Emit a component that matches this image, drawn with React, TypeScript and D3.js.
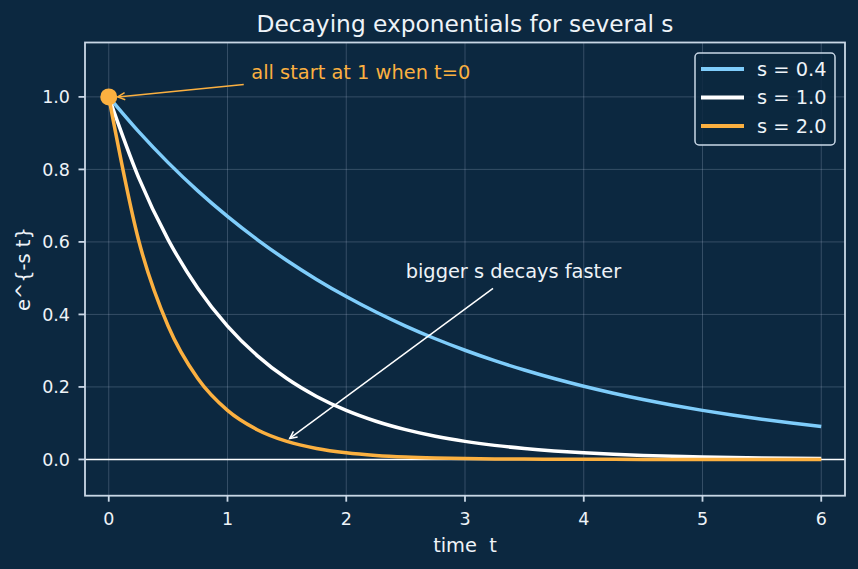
import React from "react";
import * as d3 from "d3";

// ---- data ----
const tValues = [0, 0.25, 0.5, 0.75, 1, 1.25, 1.5, 1.75, 2, 2.25, 2.5, 2.75, 3, 3.25, 3.5, 3.75, 4, 4.25, 4.5, 4.75, 5, 5.25, 5.5, 5.75, 6];
const decayS04 = [1, 0.9048, 0.8187, 0.7408, 0.6703, 0.6065, 0.5488, 0.4966, 0.4493, 0.4066, 0.3679, 0.3329, 0.3012, 0.2725, 0.2466, 0.2231, 0.2019, 0.1827, 0.1653, 0.1496, 0.1353, 0.1225, 0.1108, 0.1003, 0.0907];
const decayS10 = [1, 0.7788, 0.6065, 0.4724, 0.3679, 0.2865, 0.2231, 0.1738, 0.1353, 0.1054, 0.0821, 0.0639, 0.0498, 0.0388, 0.0302, 0.0235, 0.0183, 0.0143, 0.0111, 0.0087, 0.0067, 0.0052, 0.0041, 0.0032, 0.0025];
const decayS20 = [1, 0.6065, 0.3679, 0.2231, 0.1353, 0.0821, 0.0498, 0.0302, 0.0183, 0.0111, 0.0067, 0.0041, 0.0025, 0.0015, 0.0009, 0.0006, 0.0003, 0.0002, 0.0001, 0.0001, 0.0, 0.0, 0.0, 0.0, 0.0];
const seriesLabels = ["s = 0.4", "s = 1.0", "s = 2.0"];
const xTicks = [0, 1, 2, 3, 4, 5, 6];
const yTicks = [0, 0.2, 0.4, 0.6, 0.8, 1.0];
const titleText = "Decaying exponentials for several s";
const xLabelText = "time  t";
const yLabelText = "e^{-s t}";
const note1Text = "all start at 1 when t=0";
const note2Text = "bigger s decays faster";

// ---- styles ----
const BG = "#0c2840";
const FG = "#eef3f8";
const SPINE = "#c9d7e6";
const GRID = "rgba(200,215,235,0.22)";
const COLORS = ["#7fcdfb", "#ffffff", "#fbb040"];
const FONT = "'DejaVu Sans', Verdana, sans-serif";

const W = 858, H = 569;
const L = 85, R = 845, T = 42.5, B = 495.7;

function arrowHead(x1: number, y1: number, x2: number, y2: number, len = 8, half = 26) {
  const a = Math.atan2(y2 - y1, x2 - x1);
  const h = (half * Math.PI) / 180;
  const p1 = [x2 - len * Math.cos(a - h), y2 - len * Math.sin(a - h)];
  const p2 = [x2 - len * Math.cos(a + h), y2 - len * Math.sin(a + h)];
  return `M${p1[0]},${p1[1]}L${x2},${y2}L${p2[0]},${p2[1]}`;
}

export default function App() {
  const x = d3.scaleLinear().domain([-0.2, 6.2]).range([L, R]);
  const y = d3.scaleLinear().domain([-0.1, 1.15]).range([B, T]);
  const series = [decayS04, decayS10, decayS20];
  const line = d3
    .line<number>()
    .x((_, i) => x(tValues[i]))
    .y((d) => y(d))
    .curve(d3.curveMonotoneX);

  // annotation anchors in data units
  const a1Start = [x(1.137), y(1.034)];
  const a1End = [x(0.076), y(1.0)];
  const a2Start = [x(3.236), y(0.472)];
  const a2End = [x(1.524), y(0.058)];

  return (
    <svg width={W} height={H} style={{ position: "absolute", left: 0, top: 0, display: "block" }} fontFamily={FONT}>
      <rect x={0} y={0} width={W} height={H} fill={BG} />
      {/* grid */}
      {xTicks.map((t) => (
        <line key={"gx" + t} x1={x(t)} x2={x(t)} y1={T} y2={B} stroke={GRID} strokeWidth={1} />
      ))}
      {yTicks.map((v) => (
        <line key={"gy" + v} x1={L} x2={R} y1={y(v)} y2={y(v)} stroke={GRID} strokeWidth={1} />
      ))}
      {/* zero line */}
      <line x1={L} x2={R} y1={y(0)} y2={y(0)} stroke="#ffffff" strokeWidth={1.5} />
      {/* curves */}
      {series.map((s, i) => (
        <path key={"s" + i} d={line(s) || ""} fill="none" stroke={COLORS[i]} strokeWidth={3.5} />
      ))}
      {/* start marker */}
      <circle cx={x(0)} cy={y(1)} r={8.5} fill={COLORS[2]} />
      {/* spines */}
      <rect x={L} y={T} width={R - L} height={B - T} fill="none" stroke={SPINE} strokeWidth={1.8} />
      {/* ticks */}
      {xTicks.map((t) => (
        <g key={"xt" + t}>
          <line x1={x(t)} x2={x(t)} y1={B} y2={B + 6} stroke={SPINE} strokeWidth={1.8} />
          <text x={x(t)} y={B + 29.5} textAnchor="middle" fontSize={17.5} fill={FG}>
            {t}
          </text>
        </g>
      ))}
      {yTicks.map((v) => (
        <g key={"yt" + v}>
          <line x1={L - 6.5} x2={L} y1={y(v)} y2={y(v)} stroke={SPINE} strokeWidth={1.8} />
          <text x={L - 15} y={y(v)} dy="0.36em" textAnchor="end" fontSize={17.5} fill={FG}>
            {v.toFixed(1)}
          </text>
        </g>
      ))}
      {/* labels */}
      <text x={(L + R) / 2} y={32} textAnchor="middle" fontSize={23.3} fill={FG}>
        {titleText}
      </text>
      <text x={(L + R) / 2} y={552} textAnchor="middle" fontSize={19.4} fill={FG} style={{ whiteSpace: "pre" }}>
        {xLabelText}
      </text>
      <text transform={`translate(30,${(T + B) / 2}) rotate(-90)`} textAnchor="middle" fontSize={19.4} fill={FG}>
        {yLabelText}
      </text>
      {/* annotations */}
      <text x={x(1.2)} y={y(1.05)} fontSize={19.4} fill={COLORS[2]}>
        {note1Text}
      </text>
      <line x1={a1Start[0]} y1={a1Start[1]} x2={a1End[0]} y2={a1End[1]} stroke={COLORS[2]} strokeWidth={1.5} />
      <path d={arrowHead(a1Start[0], a1Start[1], a1End[0], a1End[1])} fill="none" stroke={COLORS[2]} strokeWidth={1.5} />
      <text x={x(2.5)} y={y(0.5)} fontSize={19.4} fill={FG}>
        {note2Text}
      </text>
      <line x1={a2Start[0]} y1={a2Start[1]} x2={a2End[0]} y2={a2End[1]} stroke="#ffffff" strokeWidth={1.5} />
      <path d={arrowHead(a2Start[0], a2Start[1], a2End[0], a2End[1])} fill="none" stroke="#ffffff" strokeWidth={1.5} />
      {/* legend */}
      <rect x={695} y={53} width={140} height={92} rx={4} fill={BG} fillOpacity={0.85} stroke={SPINE} strokeWidth={1.5} />
      {seriesLabels.map((lab, i) => {
        const ly = 69 + i * 28.5;
        return (
          <g key={"lg" + i}>
            <line x1={701} x2={744} y1={ly} y2={ly} stroke={COLORS[i]} strokeWidth={4} />
            <text x={757} y={ly} dy="0.36em" fontSize={19.4} fill={FG}>
              {lab}
            </text>
          </g>
        );
      })}
    </svg>
  );
}
